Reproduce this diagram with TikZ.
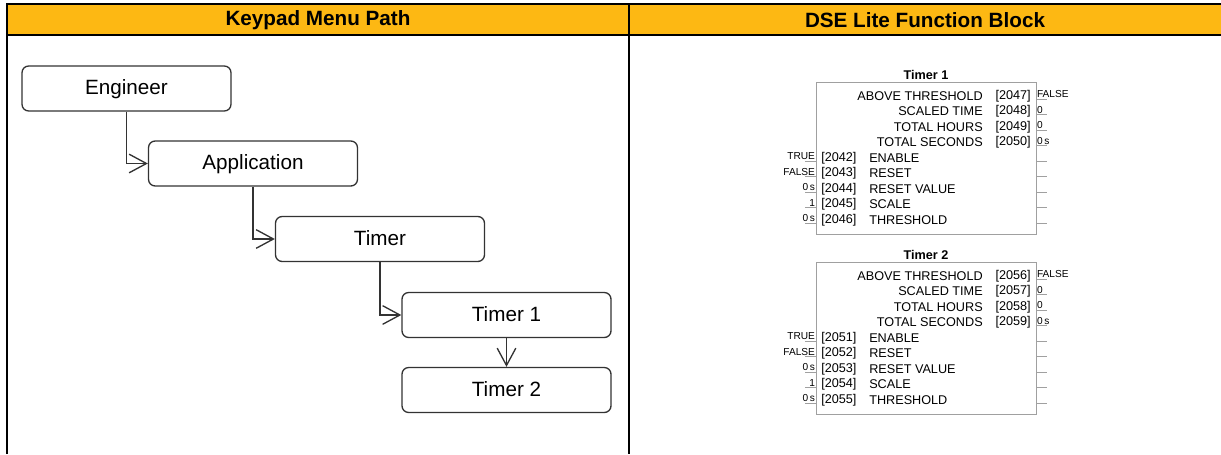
\documentclass[tikz,border=0pt]{standalone}
\usepackage{fontspec}
\setmainfont{Liberation Sans}
\usetikzlibrary{arrows.meta, positioning}
\definecolor{cgold}{HTML}{FDB813}
\definecolor{cgrey}{HTML}{A0A0A0}
\definecolor{cdark}{HTML}{333333}
\tikzset{
  menu/.style={draw=cdark, line width=1pt, rounded corners=5pt, minimum width=156.75pt, minimum height=33.75pt, inner sep=0pt, text height=11pt, text depth=2pt, font=\fontsize{15.5}{18}\selectfont},
  arrow/.style={-{Straight Barb[length=13pt, width=14pt]}, draw=cdark, line width=1pt},
  head/.style={font=\fontsize{15.5}{18}\selectfont\bfseries, inner sep=0pt},
  rule/.style={draw=black, line width=1.6pt},
  blk/.style={draw=cgrey, line width=0.75pt, minimum width=165pt, minimum height=114pt, inner sep=0pt},
  lbl/.style={font=\fontsize{9.5}{11}\selectfont, inner sep=0pt},
  ttl/.style={font=\fontsize{9.5}{11}\selectfont\bfseries, inner sep=0pt},
  val/.style={font=\fontsize{7.6}{8}\selectfont, inner sep=0.6pt},
  pin/.style={draw=cgrey, line width=0.75pt},
}
\begin{document}
\begin{tikzpicture}[x=0.75pt, y=-0.75pt]
  \useasboundingbox (0,0) rectangle (1221,454);
  % table frame
  \fill[cgold] (7,4) rectangle (1221,35);
  \draw[rule] (7,454) -- (7,4) -- (1221,4);
  \draw[rule] (7,35) -- (1221,35);
  \draw[rule] (629,4) -- (629,454);
  \node[head] (hpath) at (318,20) {Keypad Menu Path};
  \node[head] (hblock) at (925,20) {DSE Lite Function Block};
  % menu path
  \node[menu] (eng) at (126.5,88.5) {Engineer};
  \node[menu] (app) at (253,163.5) {Application};
  \node[menu] (tmr) at (380,239) {Timer};
  \node[menu] (tmr1) at (506.5,315) {Timer 1};
  \node[menu] (tmr2) at (506.5,390) {Timer 2};
  \foreach \a/\b in {eng/app, app/tmr, tmr/tmr1} \draw[arrow] (\a.south) |- (\b.west);
  \draw[arrow] (tmr1) -- (tmr2);
  % function blocks
  \foreach \k/\oy/\base in {1/0/2042, 2/180/2051} {
    \begin{scope}[shift={(0,\oy)}]
      \node[blk, anchor=north west] (blk\k) at (816,82) {};
      \node[ttl] (ttl\k) at (926,75) {Timer \k};
      \foreach \r/\name/\v in {0/ABOVE THRESHOLD/FALSE, 1/SCALED TIME/0, 2/TOTAL HOURS/0, 3/TOTAL SECONDS/{0\,s}} {
        \pgfmathtruncatemacro\num{\base+5+\r}
        \node[lbl, anchor=east] (out\k-\r) at (983,96+15.5*\r) {\name};
        \node[lbl, anchor=east] (onum\k-\r) at (1031,96+15.5*\r) {[\num]};
        \draw[pin] (1036,99+15.5*\r) coordinate (op\k-\r) -- ++(11,0);
        \node[val, anchor=south west] (oval\k-\r) at (op\k-\r) {\v};
      }
      \foreach \r/\name/\v in {0/ENABLE/TRUE, 1/RESET/FALSE, 2/RESET VALUE/{0\,s}, 3/SCALE/1, 4/THRESHOLD/{0\,s}} {
        \pgfmathtruncatemacro\num{\base+\r}
        \node[lbl, anchor=west] (inum\k-\r) at (821,158+15.5*\r) {[\num]};
        \node[lbl, anchor=west] (in\k-\r) at (869,158+15.5*\r) {\name};
        \draw[pin] (816,161+15.5*\r) coordinate (ip\k-\r) -- ++(-11,0);
        \node[val, anchor=south east] (ival\k-\r) at (ip\k-\r) {\v};
        \draw[pin] (1036,161+15.5*\r) -- ++(11,0);
      }
    \end{scope}
  }
\end{tikzpicture}
\end{document}
